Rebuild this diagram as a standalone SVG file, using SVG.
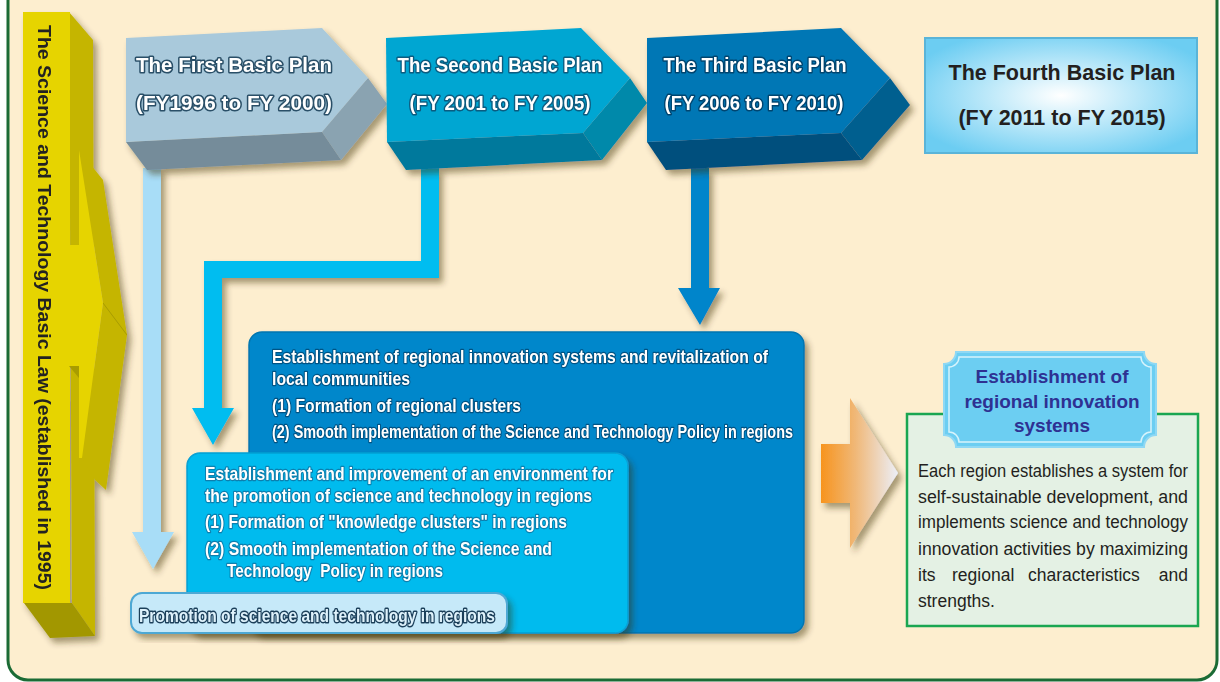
<svg xmlns="http://www.w3.org/2000/svg" width="1220" height="682" viewBox="0 0 1220 682">
<defs>
<filter id="sh" x="-15%" y="-15%" width="140%" height="140%"><feDropShadow dx="4" dy="5" stdDeviation="3" flood-color="#3a2a10" flood-opacity="0.45"/></filter>
<radialGradient id="g4" cx="50%" cy="50%" r="60%"><stop offset="0" stop-color="#ffffff"/><stop offset="1" stop-color="#6ccdf2"/></radialGradient>
<linearGradient id="go" x1="821" y1="0" x2="898" y2="0" gradientUnits="userSpaceOnUse"><stop offset="0" stop-color="#f7941e"/><stop offset="0.45" stop-color="#f0b878"/><stop offset="1" stop-color="#eceff8"/></linearGradient>
<style>
.b{font-family:"Liberation Sans",Arial,sans-serif;font-weight:bold}
.r{font-family:"Liberation Sans",Arial,sans-serif}
.w1{fill:#fff;stroke:#2a5068;stroke-width:3;paint-order:stroke;stroke-linejoin:round;font-size:20px}
.w2{fill:#fff;stroke:#0a5c80;stroke-width:3;paint-order:stroke;stroke-linejoin:round;font-size:20px}
.w3{fill:#fff;stroke:#00456f;stroke-width:3;paint-order:stroke;stroke-linejoin:round;font-size:20px}
.wa{fill:#fff;stroke:#005384;stroke-width:2.5;paint-order:stroke;stroke-linejoin:round;font-size:19px}
.wb{fill:#fff;stroke:#0a7fae;stroke-width:2.5;paint-order:stroke;stroke-linejoin:round;font-size:19px}
.gt{fill:#231f20;font-size:17.5px}
</style>
</defs>
<rect width="1220" height="682" fill="#fff"/>
<rect x="8" y="-30" width="1209" height="710" rx="20" fill="#fdeecf" stroke="#1b6b35" stroke-width="3"/>

<g id="basic-law" filter="url(#sh)">
<polygon points="69,12 93,40 95,636 72,603" fill="#c5b500"/>
<polygon points="24,603 72,603 95,636 50,638" fill="#a29700"/>
<polygon points="79,150 103,180 127,335 106,490 95,480 82,458 103,303" fill="#c5b500"/>
<line x1="103" y1="303" x2="127" y2="335" stroke="#a89c00" stroke-width="1"/>
<rect x="23" y="12" width="47" height="591" fill="#e6d400"/>
<polygon points="79,150 103,303 82,458 79,458 79,366 69,366 69,245 79,245" fill="#e6d400"/>
<polygon points="69,366 79,366 79,378" fill="#a89c00"/>
<text class="b" font-size="17.5" fill="#222" transform="translate(38,25) rotate(90)" textLength="565" lengthAdjust="spacingAndGlyphs">The Science and Technology Basic Law (established in 1995)</text>
</g>

<g id="connectors" filter="url(#sh)">
<polygon points="143,168 161,168 161,532 174,532 153,569 132,532 143,532" fill="#a8ddf7"/>
<polygon points="421,168 439,168 439,278 222,278 222,408 234,408 213,445 192,408 204,408 204,261 421,261" fill="#00bdf0"/>
<polygon points="691,168 709,168 709,288 720,288 700,325 678,288 691,288" fill="#0085cb"/>
</g>

<g id="plan1" filter="url(#sh)">
<polygon points="126,142 322,132 341,160 147,170" fill="#748c9a"/>
<polygon points="368,78 387,104 341,160 322,132" fill="#8aa3b1"/>
<polygon points="126,38 322,28 368,78 322,132 126,142" fill="#a9c9db"/>
<text class="b w1" x="234" y="72" text-anchor="middle" textLength="196" lengthAdjust="spacingAndGlyphs">The First Basic Plan</text>
<text class="b w1" x="234" y="110" text-anchor="middle" textLength="196" lengthAdjust="spacingAndGlyphs">(FY1996 to FY 2000)</text>
</g>

<g id="plan2" filter="url(#sh)">
<polygon points="387,142 583,133 602,160 406,170" fill="#00799c"/>
<polygon points="630,78 647,103 602,160 583,133" fill="#0089aa"/>
<polygon points="386,38 581,28 630,78 583,133 387,142" fill="#00a6d2"/>
<text class="b w2" x="500" y="72" text-anchor="middle" textLength="205" lengthAdjust="spacingAndGlyphs">The Second Basic Plan</text>
<text class="b w2" x="500" y="110" text-anchor="middle" textLength="181" lengthAdjust="spacingAndGlyphs">(FY 2001 to FY 2005)</text>
</g>

<g id="plan3" filter="url(#sh)">
<polygon points="647,142 841,133 862,160 666,170" fill="#004f7d"/>
<polygon points="890,78 910,105 862,160 841,133" fill="#005f8f"/>
<polygon points="647,38 841,28 890,78 841,133 647,142" fill="#0077b5"/>
<text class="b w3" x="755" y="72" text-anchor="middle" textLength="183" lengthAdjust="spacingAndGlyphs">The Third Basic Plan</text>
<text class="b w3" x="754" y="110" text-anchor="middle" textLength="179" lengthAdjust="spacingAndGlyphs">(FY 2006 to FY 2010)</text>
</g>

<g id="plan4">
<rect x="925" y="38" width="272" height="115" fill="url(#g4)" stroke="#5ab4d8" stroke-width="2"/>
<text class="b" font-size="21.5" fill="#231f20" x="1062" y="80" text-anchor="middle">The Fourth Basic Plan</text>
<text class="b" font-size="21.5" fill="#231f20" x="1062" y="125" text-anchor="middle">(FY 2011 to FY 2015)</text>
</g>

<g id="box-third" filter="url(#sh)">
<rect x="249" y="332" width="555" height="301" rx="13" fill="#0587cb" stroke="#0676b0" stroke-width="1.5"/>
<text class="b wa" x="272" y="363" textLength="496" lengthAdjust="spacingAndGlyphs">Establishment of regional innovation systems and revitalization of</text>
<text class="b wa" x="272" y="385" textLength="138" lengthAdjust="spacingAndGlyphs">local communities</text>
<text class="b wa" x="272" y="412" textLength="249" lengthAdjust="spacingAndGlyphs">(1) Formation of regional clusters</text>
<text class="b wa" x="272" y="438" textLength="521" lengthAdjust="spacingAndGlyphs">(2) Smooth implementation of the Science and Technology Policy in regions</text>
</g>

<g id="box-second" filter="url(#sh)">
<rect x="187" y="453" width="441" height="180" rx="13" fill="#00bbee" stroke="#08a0d4" stroke-width="1.5"/>
<text class="b wb" x="205" y="480" textLength="408" lengthAdjust="spacingAndGlyphs">Establishment and improvement of an environment for</text>
<text class="b wb" x="205" y="502" textLength="387" lengthAdjust="spacingAndGlyphs">the promotion of science and technology in regions</text>
<text class="b wb" x="205" y="528" textLength="362" lengthAdjust="spacingAndGlyphs">(1) Formation of "knowledge clusters" in regions</text>
<text class="b wb" x="205" y="555" textLength="347" lengthAdjust="spacingAndGlyphs">(2) Smooth implementation of the Science and</text>
<text class="b wb" x="227" y="577" textLength="216" lengthAdjust="spacingAndGlyphs">Technology&#160; Policy in regions</text>
</g>

<g id="box-first" filter="url(#sh)">
<rect x="131" y="593" width="376" height="40" rx="11" fill="#c6e9f9" stroke="#4ea8d4" stroke-width="2"/>
<text class="b" font-size="19" x="139" y="622" fill="#dff2fb" stroke="#1b3f5a" stroke-width="3" paint-order="stroke" stroke-linejoin="round" textLength="356" lengthAdjust="spacingAndGlyphs">Promotion of science and technology in regions</text>
</g>

<g id="orange-arrow" filter="url(#sh)">
<polygon points="821,444 850,444 850,398 898,473 850,548 850,503 821,503" fill="url(#go)"/>
</g>

<g id="result">
<rect x="907" y="414" width="291" height="212" fill="#e4f1e4" stroke="#1aa651" stroke-width="2.5"/>
<text class="r gt" x="918" y="477" textLength="270" lengthAdjust="spacingAndGlyphs">Each region establishes a system for</text>
<text class="r gt" x="918" y="503" textLength="270" lengthAdjust="spacingAndGlyphs">self-sustainable development, and</text>
<text class="r gt" x="918" y="528" textLength="270" lengthAdjust="spacingAndGlyphs">implements science and technology</text>
<text class="r gt" x="918" y="555" textLength="270" lengthAdjust="spacingAndGlyphs">innovation activities by maximizing</text>
<text class="r gt" y="581"><tspan x="918">its</tspan><tspan x="952">regional</tspan><tspan x="1028">characteristics</tspan><tspan x="1188" text-anchor="end">and</tspan></text>
<text class="r gt" x="918" y="607">strengths.</text>
</g>

<g id="badge">
<path d="M956,352 H1144 A12,12 0 0 0 1156,364 V435 A12,12 0 0 0 1144,447 H956 A12,12 0 0 0 944,435 V364 A12,12 0 0 0 956,352 Z" fill="#6ccef2" stroke="#8fd8f4" stroke-width="2"/>
<path d="M959,357 H1141 A10,10 0 0 0 1151,367 V432 A10,10 0 0 0 1141,442 H959 A10,10 0 0 0 949,432 V367 A10,10 0 0 0 959,357 Z" fill="none" stroke="#d6f3fc" stroke-width="1.5"/>
<text class="b" font-size="19" fill="#2e3192" text-anchor="middle"><tspan x="1052" y="383">Establishment of</tspan><tspan x="1052" y="408">regional innovation</tspan><tspan x="1052" y="432">systems</tspan></text>
</g>
</svg>
